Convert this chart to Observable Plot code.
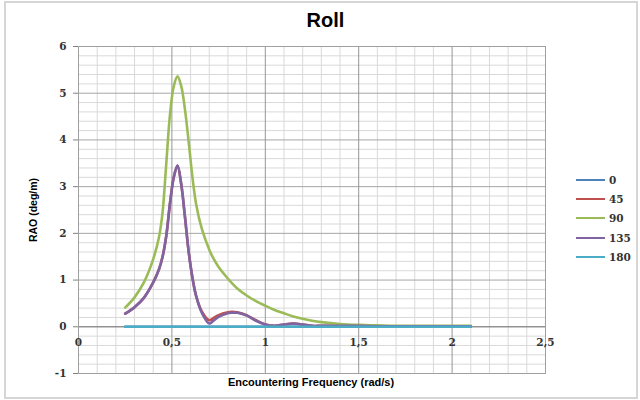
<!DOCTYPE html>
<html>
<head>
<meta charset="utf-8">
<script src="https://cdn.jsdelivr.net/npm/d3@7"></script>
<script src="https://cdn.jsdelivr.net/npm/@observablehq/plot@0.6"></script>
<style>
  html, body { margin: 0; padding: 0; background: #fff; }
  #wrap { position: relative; width: 640px; height: 400px; background: #fff; overflow: hidden; }
  #border { position: absolute; left: 4px; top: 1px; width: 630px; height: 394px; border: 2px solid #d6d6d6; }
  #plot { position: absolute; left: 0; top: 0; }
  .t { position: absolute; font-family: "Liberation Sans", Arial, sans-serif; font-weight: bold; color: #000; white-space: nowrap; }
  #title { left: 0; width: 651px; text-align: center; top: 9px; font-size: 20px; }
  #xtitle { left: 0; width: 622px; text-align: center; top: 376px; font-size: 11px; }
  #ytitle { left: 33px; top: 210px; font-size: 10.5px; transform: translate(-50%, -50%) rotate(-90deg); }
  #legend { position: absolute; left: 576px; top: 170px; font-family: "DejaVu Serif", serif; font-weight: bold; font-size: 10.5px; color: #333; }
  .li { height: 19.3px; display: flex; align-items: center; }
  .sw { width: 29px; height: 2px; margin-right: 4px; }
</style>
</head>
<body>
<div id="wrap">
  <div id="border"></div>
  <div id="plot"></div>
  <div id="title" class="t">Roll</div>
  <div id="ytitle" class="t">RAO (deg/m)</div>
  <div id="xtitle" class="t">Encountering Frequency (rad/s)</div>
  <div id="legend"></div>
</div>
<script>
// ---- data ----
const headings = ["0", "45", "90", "135", "180"];
const colors = ["#4F81BD", "#C0504D", "#9BBB59", "#8064A2", "#4BACC6"];
const freq = [0.25,0.30,0.35,0.40,0.43,0.45,0.47,0.49,0.51,0.53,0.55,0.57,0.59,0.61,0.63,0.66,0.70,0.72,0.75,0.80,0.82,0.85,0.90,0.95,1.00,1.05,1.10,1.15,1.20,1.25,1.30,1.40,1.50,1.60,1.70,1.80,1.90,2.00,2.10];
const rao0   = [0,0,0,0,0,0,0,0,0,0,0,0,0,0,0,0,0,0,0,0,0,0,0,0,0,0,0,0,0,0,0,0,0,0,0,0,0,0,0];
const rao45  = [0.28,0.42,0.62,0.95,1.22,1.50,1.95,2.65,3.20,3.45,3.05,2.35,1.60,1.05,0.66,0.33,0.14,0.18,0.25,0.31,0.32,0.31,0.25,0.14,0.05,0.02,0.05,0.07,0.05,0.02,0.02,0.02,0.02,0.01,0.01,0.01,0.01,0.01,0.01];
const rao90  = [0.41,0.63,0.95,1.45,1.90,2.45,3.50,4.55,5.15,5.36,5.15,4.65,3.95,3.20,2.62,2.10,1.65,1.48,1.28,1.03,0.94,0.82,0.67,0.55,0.45,0.36,0.29,0.22,0.17,0.13,0.10,0.06,0.04,0.03,0.02,0.02,0.02,0.02,0.02];
const rao135 = [0.28,0.42,0.62,0.95,1.22,1.50,1.95,2.65,3.20,3.45,3.05,2.35,1.60,1.05,0.65,0.30,0.07,0.12,0.21,0.29,0.30,0.30,0.24,0.13,0.05,0.02,0.05,0.07,0.05,0.02,0.02,0.02,0.02,0.01,0.01,0.01,0.01,0.01,0.01];
const rao180 = [0,0,0,0,0,0,0,0,0,0,0,0,0,0,0,0,0,0,0,0,0,0,0,0,0,0,0,0,0,0,0,0,0,0,0,0,0,0,0];
const xTicks = [0, 0.5, 1, 1.5, 2, 2.5];
const yTicks = [-1, 0, 1, 2, 3, 4, 5, 6];
const xMinor = [0.1,0.2,0.3,0.4,0.6,0.7,0.8,0.9,1.1,1.2,1.3,1.4,1.6,1.7,1.8,1.9,2.1,2.2,2.3,2.4];
const yMinor = [-0.8,-0.6,-0.4,-0.2,0.2,0.4,0.6,0.8,1.2,1.4,1.6,1.8,2.2,2.4,2.6,2.8,3.2,3.4,3.6,3.8,4.2,4.4,4.6,4.8,5.2,5.4,5.6,5.8];

// ---- build table ----
const seriesVals = [rao0, rao45, rao90, rao135, rao180];
const rows = [];
headings.forEach((h, k) => freq.forEach((f, i) => rows.push({heading: h, f, v: seriesVals[k][i]})));

const fmt = d => String(d).replace(".", ",");
const serif = "DejaVu Serif, serif";

const chart = Plot.plot({
  width: 640,
  height: 400,
  marginLeft: 78,
  marginRight: 95,
  marginTop: 46,
  marginBottom: 27,
  x: {domain: [0, 2.5], axis: null},
  y: {domain: [-1, 6], axis: null},
  color: {domain: headings, range: colors},
  style: {background: "transparent", fontFamily: serif},
  marks: [
    Plot.ruleX(xMinor, {stroke: "#d9d9d9", strokeWidth: 1}),
    Plot.ruleY(yMinor, {stroke: "#d9d9d9", strokeWidth: 1}),
    Plot.ruleY(yTicks, {stroke: "#a6a6a6", strokeWidth: 1}),
    Plot.ruleX(xTicks, {stroke: "#969696", strokeWidth: 1}),
    Plot.ruleY([0], {stroke: "#808080", strokeWidth: 1}),
    Plot.ruleX([0], {stroke: "#808080", strokeWidth: 1}),
    Plot.frame({stroke: "#a0a0a0"}),
    Plot.axisY(yTicks, {
      tickSize: 5, tickPadding: 7, tickFormat: fmt, stroke: "#808080",
      fontSize: 10.5, fontWeight: "bold", fill: "#333", fontFamily: serif, label: null
    }),
    Plot.text(xTicks, {x: d => d, y: 0, dy: 16, text: fmt, fontSize: 10.5, fontWeight: "bold", fill: "#333", fontFamily: serif}),
    ...headings.map(h => Plot.line(rows.filter(r => r.heading === h), {
      x: "f", y: "v", stroke: "heading", strokeWidth: 2.6, curve: "catmull-rom"
    }))
  ]
});
document.getElementById("plot").appendChild(chart);

// legend
const leg = document.getElementById("legend");
headings.forEach((h, k) => {
  const d = document.createElement("div");
  d.className = "li";
  d.innerHTML = `<span class="sw" style="background:${colors[k]}"></span><span>${h}</span>`;
  leg.appendChild(d);
});
</script>
</body>
</html>
